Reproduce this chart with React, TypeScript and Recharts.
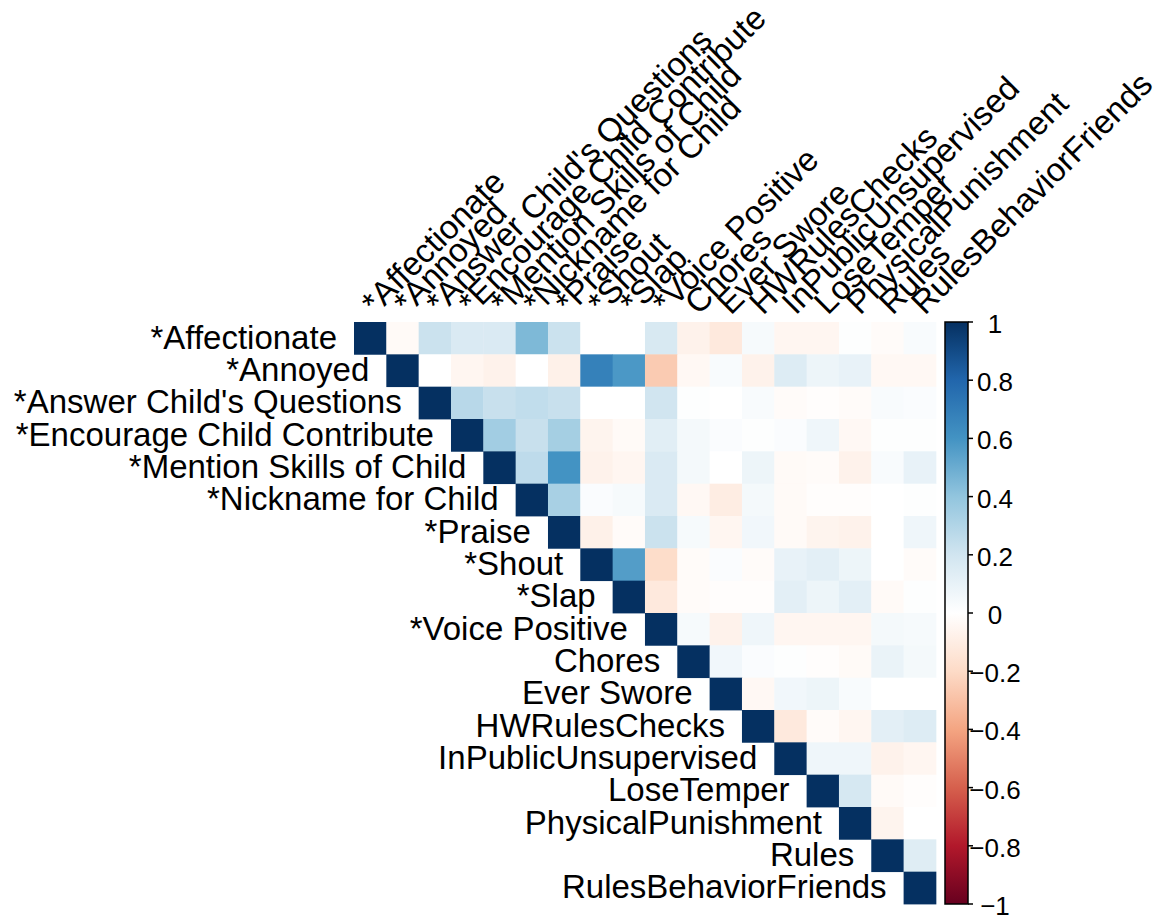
import { ReferenceArea, Scatter, ScatterChart, XAxis, YAxis } from "recharts"

const labels = [
  "*Affectionate",
  "*Annoyed",
  "*Answer Child's Questions",
  "*Encourage Child Contribute",
  "*Mention Skills of Child",
  "*Nickname for Child",
  "*Praise",
  "*Shout",
  "*Slap",
  "*Voice Positive",
  "Chores",
  "Ever Swore",
  "HWRulesChecks",
  "InPublicUnsupervised",
  "LoseTemper",
  "PhysicalPunishment",
  "Rules",
  "RulesBehaviorFriends",
]

// upper triangle, each row starts at the diagonal
const rowAffectionate = [1, -0.03, 0.22, 0.16, 0.16, 0.45, 0.22, 0, 0, 0.17, -0.07, -0.12, 0.04, -0.05, -0.05, 0.01, -0.02, 0.03]
const rowAnnoyed = [1, 0, -0.05, -0.07, 0, -0.08, 0.68, 0.58, -0.26, -0.04, 0.03, -0.07, 0.15, 0.08, 0.1, -0.04, -0.04]
const rowAnswer = [1, 0.28, 0.23, 0.25, 0.23, 0, 0, 0.2, 0.01, 0, 0.03, -0.02, -0.01, -0.02, 0.03, 0.02]
const rowEncourage = [1, 0.35, 0.23, 0.34, -0.06, -0.03, 0.13, 0.05, 0.02, 0.01, 0.02, 0.07, -0.04, 0.01, 0.01]
const rowMention = [1, 0.26, 0.6, -0.07, -0.05, 0.16, 0.05, 0, 0.08, -0.03, -0.02, -0.07, 0.03, 0.1]
const rowNickname = [1, 0.33, 0.02, 0.04, 0.16, -0.04, -0.1, 0.05, -0.03, -0.01, -0.01, 0, 0.01]
const rowPraise = [1, -0.08, -0.02, 0.22, 0.04, -0.05, 0.06, -0.03, -0.06, -0.07, 0, 0.07]
const rowShout = [1, 0.56, -0.19, -0.02, 0.02, -0.02, 0.1, 0.12, 0.08, 0, -0.02]
const rowSlap = [1, -0.12, -0.02, -0.01, -0.01, 0.12, 0.08, 0.12, -0.03, 0.01]
const rowVoice = [1, 0.04, -0.07, 0.07, -0.05, -0.05, -0.05, 0.05, 0.04]
const rowChores = [1, 0.06, 0.02, 0.01, -0.01, -0.03, 0.09, 0.05]
const rowEverSwore = [1, -0.04, 0.06, 0.08, 0.03, 0, 0]
const rowHWRules = [1, -0.12, -0.02, -0.05, 0.12, 0.15]
const rowInPublic = [1, 0.07, 0.07, -0.07, -0.05]
const rowLoseTemper = [1, 0.18, -0.03, -0.01]
const rowPhysical = [1, -0.06, 0]
const rowRules = [1, 0.14]
const rowRBF = [1]

const rows = [
  rowAffectionate, rowAnnoyed, rowAnswer, rowEncourage, rowMention, rowNickname,
  rowPraise, rowShout, rowSlap, rowVoice, rowChores, rowEverSwore, rowHWRules,
  rowInPublic, rowLoseTemper, rowPhysical, rowRules, rowRBF,
]

const colorbarTicks = [-1, -0.8, -0.6, -0.4, -0.2, 0, 0.2, 0.4, 0.6, 0.8, 1]

const palette = ["#67001F", "#B2182B", "#D6604D", "#F4A582", "#FDDBC7", "#FFFFFF", "#D1E5F0", "#92C5DE", "#4393C3", "#2166AC", "#053061"]

const hex = (h: string) => [1, 3, 5].map((k) => parseInt(h.slice(k, k + 2), 16))

function corrColor(v: number) {
  const t = ((Math.max(-1, Math.min(1, v)) + 1) / 2) * (palette.length - 1)
  const i = Math.min(Math.floor(t), palette.length - 2)
  const f = t - i
  const a = hex(palette[i])
  const b = hex(palette[i + 1])
  const c = a.map((x, k) => Math.round(x + (b[k] - x) * f))
  return `rgb(${c[0]},${c[1]},${c[2]})`
}

const cells = rows.flatMap((r, i) => r.map((v, k) => ({ x: i + k, y: i, v })))

const W = 1150
const H = 912
const CELL = 32.33
const PLOT_LEFT = 346
const PLOT_TOP = 314
const PLOT_RIGHT = 960
const FONT = "'Liberation Sans', Arial, sans-serif"

const fmt = (v: number) => (v === 0 ? "0" : (v < 0 ? "\u2212" : "") + String(Math.abs(v)))

const Cell = (props: any) => {
  const { cx, cy, payload } = props
  return (
    <rect
      x={cx - CELL / 2}
      y={cy - CELL / 2}
      width={CELL + 0.4}
      height={CELL + 0.4}
      fill={corrColor(payload.v)}
    />
  )
}

const Empty = () => <g />

const RowTick = (props: any) => {
  const i = props.payload.value
  return (
    <text x={PLOT_LEFT + i * CELL - 17} y={props.y - 1} textAnchor="end" dominantBaseline="central" fontSize={33} fill="#000" fontFamily={FONT}>
      {labels[i]}
    </text>
  )
}

const ColTick = (props: any) => {
  const i = props.payload.value
  const x0 = props.x + 5
  const y0 = PLOT_TOP - 6
  return (
    <text x={x0} y={y0} textAnchor="start" fontSize={33} fill="#000" fontFamily={FONT} transform={`rotate(-45, ${x0}, ${y0})`}>
      {labels[i]}
    </text>
  )
}

const BarTick = (props: any) => {
  const { y, payload } = props
  return (
    <g>
      <line x1={PLOT_RIGHT} x2={PLOT_RIGHT + 5} y1={y} y2={y} stroke="#000" strokeWidth={1.5} />
      <text x={PLOT_RIGHT + 27} y={y + 2} textAnchor="middle" dominantBaseline="central" fontSize={26} fill="#000" fontFamily={FONT}>
        {fmt(payload.value)}
      </text>
    </g>
  )
}

export default function App() {
  const xMax = -0.5 + (PLOT_RIGHT - PLOT_LEFT) / CELL
  const barX1 = -0.5 + (945 - 8 - PLOT_LEFT) / CELL
  const barData = colorbarTicks.map((v) => ({ x: xMax, y: v }))
  return (
    <div style={{ width: W, height: H }}>
      <ScatterChart width={W} height={H} margin={{ top: 14, right: 110, left: 6, bottom: 16 }}>
        <defs>
          <linearGradient id="cbar" x1="0" y1="0" x2="0" y2="1">
            {colorbarTicks.slice().reverse().map((v, k) => (
              <stop key={k} offset={`${(k / (colorbarTicks.length - 1)) * 100}%`} stopColor={corrColor(v)} />
            ))}
          </linearGradient>
        </defs>
        <XAxis
          type="number"
          dataKey="x"
          orientation="top"
          domain={[-0.5, xMax]}
          ticks={labels.map((_, i) => i)}
          interval={0}
          height={300}
          axisLine={false}
          tickLine={false}
          tick={<ColTick />}
          allowDataOverflow
        />
        <YAxis
          type="number"
          dataKey="y"
          domain={[-0.5, 17.5]}
          reversed
          ticks={labels.map((_, i) => i)}
          interval={0}
          width={340}
          axisLine={false}
          tickLine={false}
          tick={<RowTick />}
        />
        <YAxis
          yAxisId="cb"
          orientation="right"
          type="number"
          dataKey="y"
          domain={[-1, 1]}
          ticks={colorbarTicks}
          interval={0}
          width={80}
          axisLine={false}
          tickLine={false}
          tick={<BarTick />}
          allowDataOverflow
        />
        <Scatter data={cells} shape={<Cell />} isAnimationActive={false} />
        <Scatter yAxisId="cb" data={barData} shape={<Empty />} isAnimationActive={false} />
        <ReferenceArea
          yAxisId="cb"
          x1={barX1}
          x2={xMax}
          y1={-1}
          y2={1}
          fill="url(#cbar)"
          fillOpacity={1}
          stroke="#000"
          strokeWidth={1.5}
          ifOverflow="visible"
        />
      </ScatterChart>
    </div>
  )
}
